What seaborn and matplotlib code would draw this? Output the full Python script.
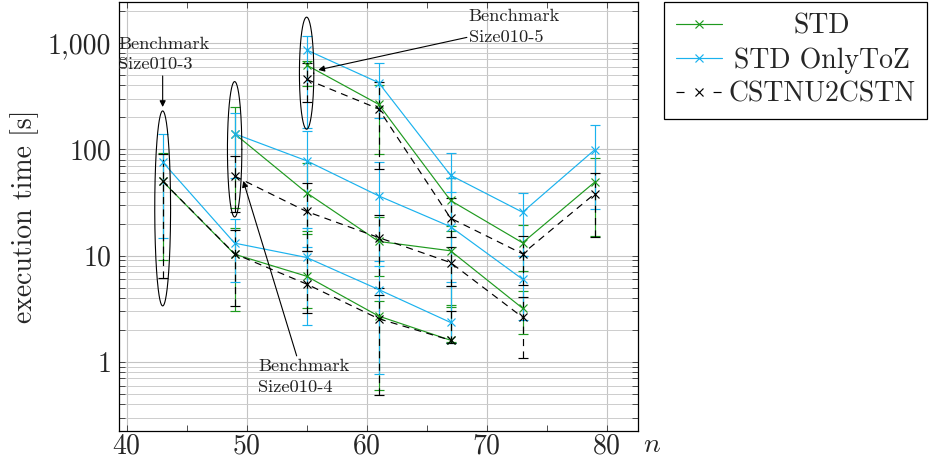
import numpy as np
import pandas as pd
import matplotlib
matplotlib.use("Agg")
import matplotlib.pyplot as plt
import seaborn as sns
from matplotlib.lines import Line2D
from matplotlib.ticker import FixedLocator, FixedFormatter, LogLocator, NullFormatter, MultipleLocator

# ---------------- data ----------------
series_names = ["STD", "STD OnlyToZ", "CSTNU2CSTN"]
series_colors = ["#1f9a1f", "#1ab2ee", "#000000"]

# three benchmark groups (Size010-3, Size010-4, Size010-5)
n_A = [43, 49, 55, 61, 67]
n_B = [49, 55, 61, 67, 73]
n_C = [55, 61, 67, 73, 79]

# STD
std_A = [50, 10.3, 6.4, 2.7, 1.6]
std_A_lo = [9.0, 3.0, 3.2, 0.545, 1.55]
std_A_hi = [92, 18, 16, 3.75, 3.4]
std_B = [140, 39, 13.6, 11.1, 3.2]
std_B_lo = [28, 17, 6.5, 3.3, 1.83]
std_B_hi = [250, 75, 23, 17, 4.6]
std_C = [620, 265, 33, 13.2, 49]
std_C_lo = [395, 90, 19, 7.2, 15.4]
std_C_hi = [680, 400, 54, 19.2, 82.5]

# STD OnlyToZ
otz_A = [76, 13.1, 9.6, 4.8, 2.35]
otz_A_lo = [14.8, 5.6, 2.23, 0.77, 1.5]
otz_A_hi = [139, 22, 18, 8, 5.2]
otz_B = [140, 78, 36.5, 18.7, 6.0]
otz_B_lo = [54, 12, 8.9, 5.7, 2.48]
otz_B_hi = [220, 150, 76, 53.5, 10]
otz_C = [860, 424, 57, 25.6, 98.7]
otz_C_lo = [158, 196, 40, 10, 27.3]
otz_C_hi = [1167, 654, 92, 39, 170]

# CSTNU2CSTN
cst_A = [50, 10.4, 5.4, 2.55, 1.6]
cst_A_lo = [6.2, 3.36, 2.87, 0.49, 1.5]
cst_A_hi = [90, 17.4, 11.1, 4.3, 3.0]
cst_B = [56, 26, 14.8, 8.6, 2.63]
cst_B_lo = [25.9, 11.1, 5.0, 5.2, 1.08]
cst_B_hi = [87, 48.6, 24, 12, 4.1]
cst_C = [455, 240, 22.5, 10.4, 38]
cst_C_lo = [280, 65, 15.1, 5.3, 14.9]
cst_C_hi = [650, 430, 35, 15.4, 60.4]

y_tick_values = [1, 10, 100, 1000]
y_tick_labels = ["1", "10", "100", "1,000"]
x_tick_values = [40, 50, 60, 70, 80]

# annotation shapes: ellipses (center n, center log10 t, half-width, half-height in decades)
ell_cx = [43, 49, 55]
ell_cy = [1.444, 2.0, 2.716]
ell_a = [0.66, 0.6, 0.6]
ell_b = [0.917, 0.637, 0.527]
ann_texts = ["Benchmark\nSize010-3", "Benchmark\nSize010-4", "Benchmark\nSize010-5"]
ann_text_xy = [(39.30, 570), (50.97, 0.526), (68.52, 1031)]
ann_arrow_tail = [(43.0, 490), (54.17, 1.14), (68.36, 1129)]
ann_arrow_head = [(43.0, 250), (49.72, 50.4), (55.97, 558)]

# ---------------- build table ----------------
rows = []
table = {
    "STD": [(n_A, std_A, std_A_lo, std_A_hi), (n_B, std_B, std_B_lo, std_B_hi), (n_C, std_C, std_C_lo, std_C_hi)],
    "STD OnlyToZ": [(n_A, otz_A, otz_A_lo, otz_A_hi), (n_B, otz_B, otz_B_lo, otz_B_hi), (n_C, otz_C, otz_C_lo, otz_C_hi)],
    "CSTNU2CSTN": [(n_A, cst_A, cst_A_lo, cst_A_hi), (n_B, cst_B, cst_B_lo, cst_B_hi), (n_C, cst_C, cst_C_lo, cst_C_hi)],
}
for s in series_names:
    for gi, (nn, tt, lo, hi) in enumerate(table[s]):
        for a, b, c, d in zip(nn, tt, lo, hi):
            rows.append(dict(series=s, group=gi, n=a, t=b, lo=c, hi=d))
df = pd.DataFrame(rows)

# ---------------- style ----------------
sns.set_theme(style="ticks")
plt.rcParams["font.family"] = ["cmr10", "DejaVu Serif"]
plt.rcParams["mathtext.fontset"] = "cm"
plt.rcParams["axes.formatter.use_mathtext"] = True
plt.rcParams["axes.unicode_minus"] = False

fig = plt.figure(figsize=(9.3, 4.66), dpi=100)
ax = fig.add_axes([119 / 930, 35 / 466, (637.7 - 119) / 930, 429 / 466])

ax.set_yscale("log")
ax.set_xlim(39.36, 82.6)
ax.set_ylim(0.224, 2430)

# grid
ax.set_axisbelow(True)
ax.grid(True, which="major", axis="both", color="#c4c4c4", lw=0.8)
ax.grid(True, which="minor", axis="y", color="#cdcdcd", lw=0.7)

dash = (0, (6, 4.5))
lw = 0.85
for s, col in zip(series_names, series_colors):
    sub = df[df.series == s]
    ls = dash if s == "CSTNU2CSTN" else "-"
    sns.lineplot(data=sub, x="n", y="t", units="group", estimator=None, sort=False,
                 color=col, marker="x", markersize=5.5, markeredgewidth=0.85,
                 markeredgecolor=col, linewidth=lw, linestyle=ls, ax=ax, legend=False, zorder=3)
    err = [sub.t - sub.lo, sub.hi - sub.t]
    cont = ax.errorbar(sub.n, sub.t, yerr=err, fmt="none", ecolor=col, elinewidth=lw,
                       capsize=3.6, capthick=lw, zorder=2.5)
    if s == "CSTNU2CSTN":
        for lc in cont[2]:
            lc.set_linestyle(dash)

# ellipses and annotations
tt = np.linspace(0, 2 * np.pi, 300)
for cx, cy, a, b in zip(ell_cx, ell_cy, ell_a, ell_b):
    ax.plot(cx + a * np.cos(tt), 10 ** (cy + b * np.sin(tt)), color="black", lw=0.8, zorder=4)
for txt, (tx, ty), tail, head in zip(ann_texts, ann_text_xy, ann_arrow_tail, ann_arrow_head):
    ax.text(tx, ty, txt, ha="left", va="baseline", fontsize=13.3, linespacing=1.4,
            color="#222222", zorder=5, clip_on=False)
    ax.annotate("", xy=head, xytext=tail,
                arrowprops=dict(arrowstyle="-|>", color="black", lw=0.8,
                                shrinkA=0, shrinkB=0, mutation_scale=9), zorder=5)

# ticks
ax.yaxis.set_major_locator(FixedLocator(y_tick_values))
ax.yaxis.set_major_formatter(FixedFormatter(y_tick_labels))
ax.yaxis.set_minor_locator(LogLocator(base=10, subs=np.arange(2, 10)))
ax.yaxis.set_minor_formatter(NullFormatter())
ax.xaxis.set_major_locator(FixedLocator(x_tick_values))
ax.xaxis.set_minor_locator(MultipleLocator(5))
ax.tick_params(which="both", direction="in", top=True, right=True, width=0.6, color="#333333")
ax.tick_params(which="major", length=4.5, labelsize=20)
ax.tick_params(which="minor", length=4.5)
ax.tick_params(axis="y", which="major", pad=5.5)
ax.tick_params(axis="x", which="major", pad=1.5)

for sp in ax.spines.values():
    sp.set_color("black")
    sp.set_linewidth(0.9)

ax.set_xlabel("$n$", fontsize=20)
ax.xaxis.set_label_coords(1.028, -0.002)
ax.xaxis.label.set_ha("center")
ax.xaxis.label.set_va("top")
ax.set_ylabel("execution time [s]", fontsize=20)
ax.yaxis.set_label_coords(-0.155, 0.5)

# legend
legend_dash = (0, (6.8, 24.6))
handles = []
for s, col in zip(series_names, series_colors):
    ls = legend_dash if s == "CSTNU2CSTN" else "-"
    handles.append(Line2D([], [], color=col, lw=lw, ls=ls, marker="x", markersize=5.5,
                          markeredgewidth=0.85))
leg = fig.legend(handles, series_names, loc="upper left",
                 bbox_to_anchor=(664 / 930, 1 - 2 / 466), frameon=True, fancybox=False,
                 edgecolor="black", framealpha=1, fontsize=20, handlelength=1.65,
                 handletextpad=0.25, borderpad=0.42, labelspacing=0.26, borderaxespad=0)
leg.get_frame().set_linewidth(0.9)

fig.canvas.draw()
renderer = fig.canvas.get_renderer()
texts = leg.get_texts()
widths = [t.get_window_extent(renderer).width for t in texts]
wmax = max(widths)
for t, w in zip(texts, widths):
    t.set_position(((wmax - w) / 2, 0))

fig.savefig("out.png", dpi=100)
